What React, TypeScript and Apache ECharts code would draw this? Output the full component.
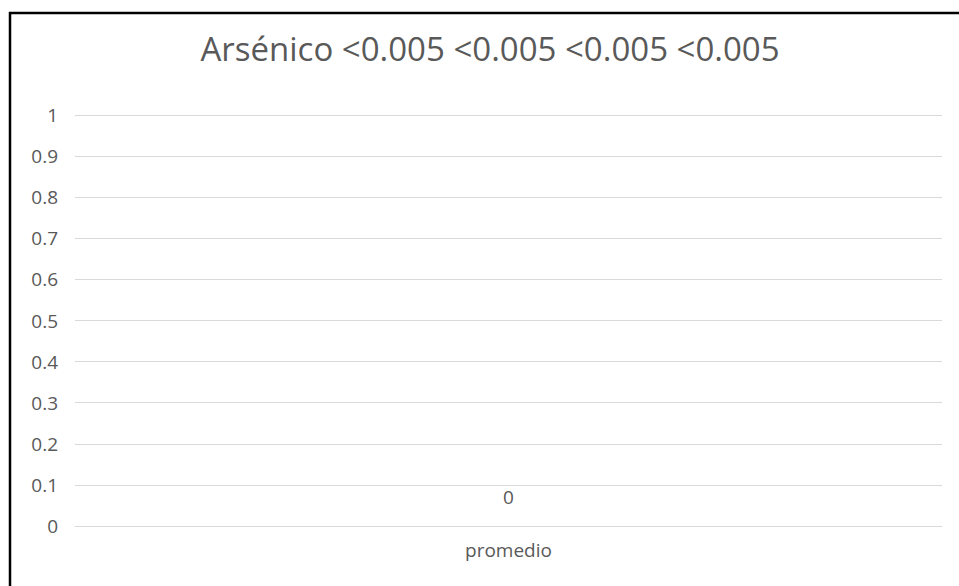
import React, { useEffect, useRef } from "react";
import * as echarts from "echarts";

const titleText = "Arsénico <0.005 <0.005 <0.005 <0.005";
const categories = ["promedio"];
const values = [0];
const yMin = 0;
const yMax = 1;
const yInterval = 0.1;

export default function App() {
  const ref = useRef<HTMLDivElement>(null);
  useEffect(() => {
    if (!ref.current) return;
    const chart = echarts.init(ref.current, null, { renderer: "svg" });
    const font = "'Open Sans', sans-serif";
    chart.setOption({
      animation: false,
      backgroundColor: "#ffffff",
      title: {
        text: titleText,
        left: 485,
        top: 27,
        textAlign: "center",
        textStyle: { fontFamily: font, fontSize: 33, fontWeight: "normal", color: "#595959" },
      },
      grid: { left: 75, right: 17, top: 115, bottom: 60, containLabel: false },
      xAxis: {
        type: "category",
        data: categories,
        axisLine: { show: true, lineStyle: { color: "#d9d9d9" } },
        axisTick: { show: false },
        axisLabel: { fontFamily: font, fontSize: 19, color: "#595959", margin: 14 },
      },
      yAxis: {
        type: "value",
        min: yMin,
        max: yMax,
        interval: yInterval,
        axisLine: { show: false },
        axisTick: { show: false },
        splitLine: { lineStyle: { color: "#d9d9d9", width: 1 } },
        axisLabel: {
          fontFamily: font,
          fontSize: 19,
          color: "#595959",
          margin: 17,
          formatter: (v: number) => String(Math.round(v * 10) / 10),
        },
      },
      series: [
        {
          type: "bar",
          data: values,
          barWidth: "40%",
          itemStyle: { color: "#5b9bd5" },
          label: {
            show: true,
            position: "top",
            distance: 20,
            fontFamily: font,
            fontSize: 19,
            color: "#595959",
          },
        },
      ],
      graphic: [
        { type: "line", shape: { x1: 9, y1: 13, x2: 959, y2: 13 }, style: { stroke: "#000", lineWidth: 2.5 } },
        { type: "line", shape: { x1: 10, y1: 12, x2: 10, y2: 586 }, style: { stroke: "#000", lineWidth: 2.5 } },
      ],
    });
    return () => chart.dispose();
  }, []);
  return (
    <div style={{ position: "fixed", left: 0, top: 0, width: 959, height: 586 }}>
      <div ref={ref} style={{ width: 959, height: 586 }} />
    </div>
  );
}
